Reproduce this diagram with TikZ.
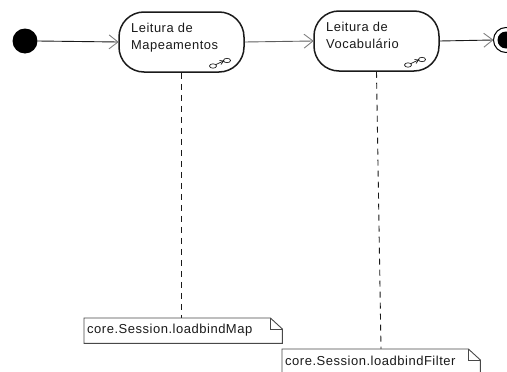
\documentclass[tikz,border=0pt]{standalone}
\usepackage{fontspec}
\setmainfont{Liberation Sans}
\newfontfamily\spacedsans[LetterSpace=4]{Liberation Sans}
\usetikzlibrary{arrows.meta}
\definecolor{inkc}{HTML}{1A1A1A}
\tikzset{
  act/.style={draw=inkc,line width=1.5pt,rounded corners=25pt,fill=white,minimum width=125pt,minimum height=60pt,inner sep=0pt},
  lbl/.style={font=\spacedsans\fontsize{12.9}{17}\selectfont,text=inkc,align=left,anchor=north west,inner sep=0pt},
  flow/.style={draw=inkc,line width=0.9pt,-{Straight Barb[length=9pt,width=14pt,color=gray,line width=0.9pt]},shorten >=-0.5pt},
  anchorline/.style={draw=inkc,line width=0.9pt,dash pattern=on 6pt off 5pt},
  notebox/.style={minimum width=198pt,minimum height=25pt,inner sep=0pt},
  notetxt/.style={font=\spacedsans\fontsize{13}{14}\selectfont,text=inkc,anchor=west,inner sep=0pt},
  noteline/.style={draw=inkc!80,line width=0.9pt},
  icon/.style={draw=inkc,line width=0.7pt}
}
\begin{document}
\begin{tikzpicture}[x=1pt,y=-1pt]
\useasboundingbox (0,0) rectangle (507,372);
\clip (0,0) rectangle (507,372);
\node[circle,fill=black,minimum size=25pt,inner sep=0pt] (start) at (25,41) {};
\node[act] (a1) at (181.5,42) {};
\node[act] (a2) at (376.5,41) {};
\node[circle,draw=black,line width=1pt,fill=white,minimum size=25pt,inner sep=0pt] (stop) at (506,40) {};
\fill[black] (stop) circle (8.5pt);
\node[lbl] (t1) at (131,23) {Leitura de\\Mapeamentos};
\node[lbl] (t2) at (326,22) {Leitura de\\Vocabulário};
\draw[flow] (start.east) -- (a1.west);
\draw[flow,draw=inkc!70] (a1.east) -- (a2.west);
\draw[flow] (a2.east) -- (stop.west);
% notes
\node[notebox,anchor=north west] (n1) at (84,318) {};
\node[notebox,anchor=north west] (n2) at (282,349) {};
\draw[anchorline] (a1.south) -- (n1.north west -| a1.south);
\draw[anchorline] (a2.south) -- (381,349);
\foreach \n in {n1,n2}{
  \draw[noteline,fill=white] (\n.north west) -- ([xshift=-12pt]\n.north east) -- ([yshift=-11pt]\n.north east) -- (\n.south east) -- (\n.south west) -- cycle;
  \draw[noteline] ([xshift=-12pt]\n.north east) -- ([xshift=-12pt,yshift=-11pt]\n.north east) -- ([yshift=-11pt]\n.north east);
}
\node[notetxt] (nt1) at (87,330) {core.Session.loadbindMap};
\node[notetxt] (nt2) at (285,360.5) {core.Session.loadbindFilter};
% rake icons
\foreach \dx/\dy in {0/0,195/-1}{
  \begin{scope}[shift={(\dx,\dy)}]
    \draw[icon] (213,66) ellipse (3.5pt and 2.2pt);
    \draw[icon] (227,60.5) ellipse (3.5pt and 2.2pt);
    \draw[icon] (216,64.5) -- (223.5,61);
    \draw[icon] (219.5,60.5) -- (223.5,61) -- (221,64.5);
  \end{scope}
}
\end{tikzpicture}
\end{document}
